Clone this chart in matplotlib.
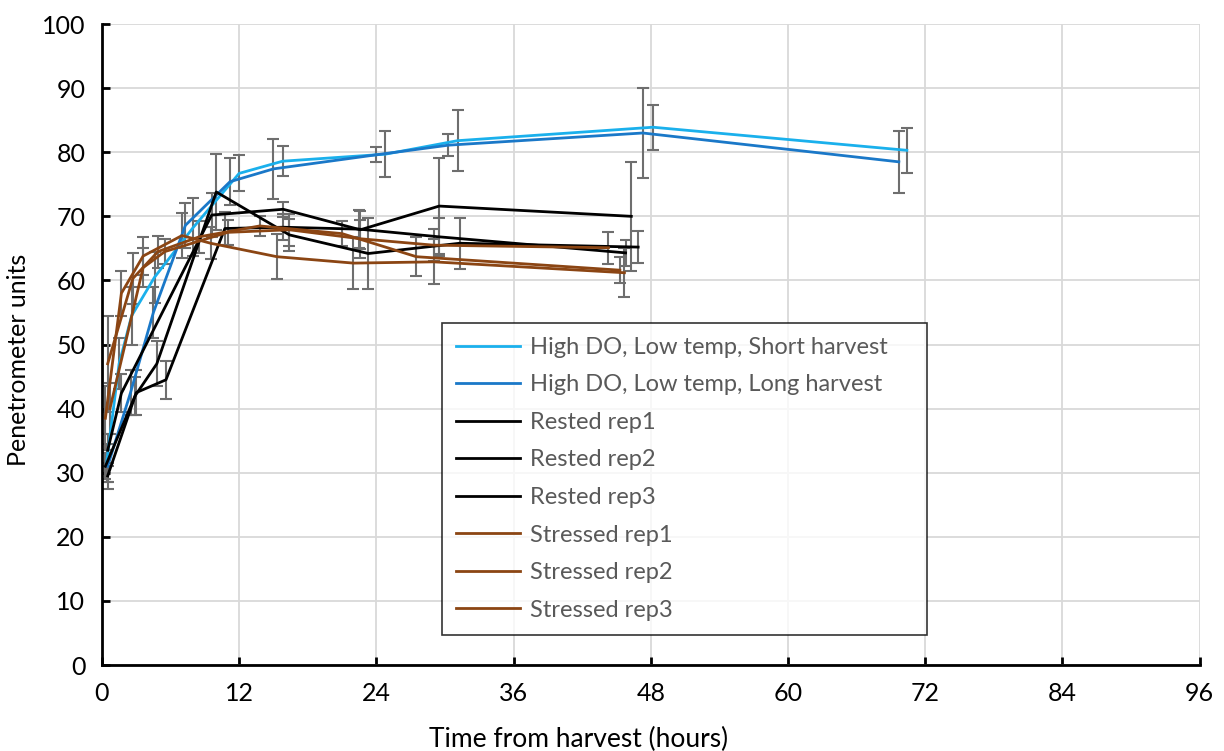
import matplotlib
matplotlib.use("Agg")
import matplotlib.pyplot as plt

plt.rcParams['font.family'] = ['Lato', 'DejaVu Sans']

# time (hours) and penetrometer readings
short_x = [0.4, 1.5, 2.6, 4.6, 8.0, 12.0, 15.8, 24.8, 31.1, 48.2, 70.4]
short_y = [31.5, 47.0, 54.5, 60.5, 68.3, 76.7, 78.6, 79.7, 81.8, 83.9, 80.3]
short_e = [3.0, 4.0, 4.5, 4.0, 4.5, 2.8, 2.3, 3.6, 4.8, 3.5, 3.5]

long_x = [0.5, 2.5, 4.5, 7.3, 11.2, 15.0, 24.0, 30.3, 47.3, 69.7]
long_y = [31.0, 42.5, 55.0, 68.6, 75.4, 77.4, 79.6, 81.1, 83.0, 78.5]
long_e = [2.5, 3.5, 4.0, 3.5, 3.7, 4.7, 1.2, 1.7, 7.0, 4.8]

rest1_x = [0.5, 1.7, 9.6, 15.85, 22.6, 29.5, 46.3]
rest1_y = [33.5, 42.4, 70.2, 71.1, 67.9, 71.6, 70.0]
rest1_e = [2.5, 3.0, 3.5, 1.2, 3.0, 7.5, 8.5]

rest2_x = [0.3, 2.9, 4.8, 10.0, 16.4, 23.3, 31.3, 46.9]
rest2_y = [31.0, 42.0, 47.0, 73.8, 67.1, 64.2, 65.8, 65.2]
rest2_e = [2.0, 3.0, 3.5, 6.0, 2.5, 5.5, 4.0, 2.5]

rest3_x = [0.5, 3.0, 5.6, 10.75, 15.85, 22.5, 29.5, 45.8]
rest3_y = [29.5, 42.5, 44.5, 68.1, 68.3, 68.0, 66.8, 64.3]
rest3_e = [2.0, 3.5, 3.0, 2.5, 2.0, 3.0, 3.0, 2.0]

stress1_x = [0.3, 1.7, 3.6, 7.0, 9.5, 15.3, 22.0, 29.0, 45.7]
stress1_y = [38.5, 58.0, 63.8, 67.0, 65.8, 63.7, 62.7, 62.9, 61.2]
stress1_e = [5.0, 3.5, 3.0, 3.5, 2.5, 3.5, 4.0, 3.5, 3.8]

stress2_x = [0.5, 2.7, 4.9, 8.5, 13.8, 21.0, 27.5, 45.3]
stress2_y = [47.0, 60.3, 64.5, 66.8, 68.5, 67.3, 63.7, 61.6]
stress2_e = [7.5, 4.0, 2.5, 2.5, 1.5, 2.0, 3.0, 2.0]

stress3_x = [0.7, 3.6, 5.5, 11.0, 16.4, 22.6, 29.0, 44.3]
stress3_y = [40.0, 62.0, 64.5, 67.5, 67.9, 66.5, 65.5, 65.1]
stress3_e = [4.0, 3.0, 2.0, 2.0, 2.5, 3.0, 2.5, 2.5]

series = [
    (short_x, short_y, short_e, "#1ab0ec", "High DO, Low temp, Short harvest"),
    (long_x, long_y, long_e, "#1a78c8", "High DO, Low temp, Long harvest"),
    (rest1_x, rest1_y, rest1_e, "#000000", "Rested rep1"),
    (rest2_x, rest2_y, rest2_e, "#000000", "Rested rep2"),
    (rest3_x, rest3_y, rest3_e, "#000000", "Rested rep3"),
    (stress1_x, stress1_y, stress1_e, "#8b4513", "Stressed rep1"),
    (stress2_x, stress2_y, stress2_e, "#8b4513", "Stressed rep2"),
    (stress3_x, stress3_y, stress3_e, "#8b4513", "Stressed rep3"),
]

fig = plt.figure(figsize=(12.24, 7.51), dpi=100)
ax = fig.add_axes([0.0833, 0.1145, 0.8967, 0.8535])

for x, y, e, c, lab in series:
    ax.errorbar(x, y, yerr=e, fmt='none', ecolor='#6e6e6e', elinewidth=1.5,
                capsize=4, capthick=1.5, zorder=2)
    ax.plot(x, y, color=c, lw=2, label=lab, zorder=3)

ax.set_xlim(0, 96)
ax.set_ylim(0, 100)
ax.set_xticks(range(0, 97, 12))
ax.set_yticks(range(0, 101, 10))
ax.grid(True, color='#d9d9d9', lw=1.3)
ax.set_axisbelow(True)
for s in ['top', 'right']:
    ax.spines[s].set_visible(False)
for s in ['left', 'bottom']:
    ax.spines[s].set_linewidth(2)
ax.tick_params(direction='in', length=6, width=2, labelsize=18, pad=12)
ax.set_xlabel("Time from harvest (hours)", fontsize=19)
ax.xaxis.set_label_coords(0.434, -0.097)
ax.set_ylabel("Penetrometer units", fontsize=18)
ax.yaxis.set_label_coords(-0.066, 0.476)

leg = ax.legend(loc='upper left', bbox_to_anchor=(0.31, 0.053, 0.442, 0.481),
                mode='expand', fontsize=17,
                frameon=True, fancybox=False, edgecolor='black',
                labelspacing=0.7, handlelength=2.7, handletextpad=0.4,
                borderpad=0.6, borderaxespad=0)
leg.get_frame().set_linewidth(1.2)
for t in leg.get_texts():
    t.set_color('#595959')

fig.savefig("out.png", dpi=100)
